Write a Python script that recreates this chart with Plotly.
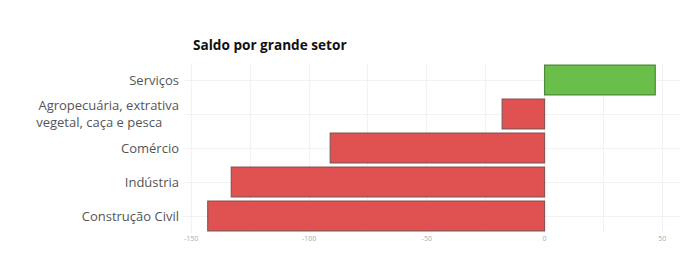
import plotly.graph_objects as go

categories = ["Construção Civil", "Indústria", "Comércio",
              "Agropecuária, extrativa<br>vegetal, caça e pesca&nbsp;&nbsp;&nbsp;&nbsp;&nbsp;", "Serviços"]
values = [-143, -133, -91, -18, 47]
colors = ["#e05252" if v < 0 else "#6abf4b" for v in values]
line_colors = ["#8c5555" if v < 0 else "#4f8a3a" for v in values]

fig = go.Figure(go.Bar(
    x=values, y=categories, orientation="h",
    marker=dict(color=colors, line=dict(color=line_colors, width=1.2)),
    hoverinfo="x+y",
))

fig.update_layout(
    width=700, height=280,
    margin=dict(l=183, r=20, t=63, b=47),
    paper_bgcolor="white", plot_bgcolor="white",
    bargap=0.12,
    showlegend=False,
    title=dict(text="<b>Saldo por grande setor</b>", x=193/700, xanchor="left",
               y=1-45/280, yanchor="middle",
               font=dict(family="Open Sans", size=13.6, color="#111")),
    font=dict(family="Open Sans"),
)
fig.update_xaxes(
    range=[-153.5, 57.5], tickvals=[-150, -100, -50, 0, 50],
    ticktext=["-150", "-100", "-50", "0", "50"],
    tickfont=dict(size=7, color="#aaa"),
    showgrid=True, gridcolor="#f2f2f2", gridwidth=1,
    minor=dict(dtick=25, showgrid=True, gridcolor="#f2f2f2"),
    zeroline=False, showline=False, ticks="",
)
fig.update_yaxes(
    tickfont=dict(size=13, color="#555"),
    showgrid=True, gridcolor="#f2f2f2", zeroline=False,
    ticks="", ticklen=0, automargin=False, ticklabelstandoff=3,
)
fig.write_html("out.html")
